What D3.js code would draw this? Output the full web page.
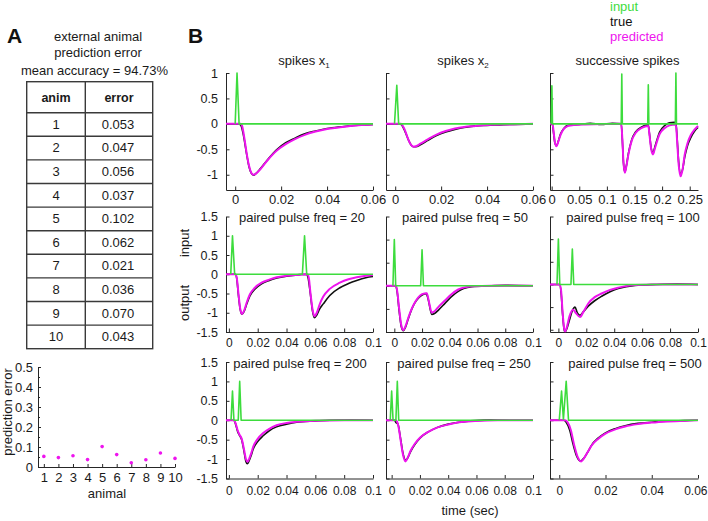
<!DOCTYPE html>
<html>
<head>
<meta charset="utf-8">
<script src="https://cdn.jsdelivr.net/npm/d3@7"></script>
<style>
  body { margin: 0; background: #fff; }
  svg { display: block; font-family: "Liberation Sans", Arial, sans-serif; }
  .axis path, .axis line { stroke: #262626; stroke-width: 1; }
  .axis text { fill: #1a1a1a; }
</style>
</head>
<body>
<svg id="fig" width="708" height="521"></svg>
<script>
// ---- panel A data ----
const animals = [1, 2, 3, 4, 5, 6, 7, 8, 9, 10];
const errors = [0.053, 0.047, 0.056, 0.037, 0.102, 0.062, 0.021, 0.036, 0.070, 0.043];
const errorTicks = [0, 0.1, 0.2, 0.3, 0.4, 0.5];
const errorMinor = [0.05, 0.15, 0.25, 0.35, 0.45];

// ---- panel B tick labels ----
const yTicksTop = [-1, -0.5, 0, 0.5, 1];
const yTicksLow = [-1.5, -1, -0.5, 0, 0.5, 1, 1.5];
const xTicks06 = [0, 0.02, 0.04, 0.06];
const xTicks10 = [0, 0.02, 0.04, 0.06, 0.08, 0.1];
const xTicksSucc = [0, 0.05, 0.1, 0.15, 0.2, 0.25];

// ---- traces [time (s), value] ----
const x1In = [[0, 0], [0.0008, 1], [0.0017, 0], [0.06, 0]];
const x1True = [[-0.004, 0], [0.0015, 0], [0.0025, -0.03], [0.0035, -0.2], [0.005, -0.6], [0.006, -0.84], [0.007, -0.97], [0.008, -1.01], [0.009, -0.98], [0.011, -0.88], [0.014, -0.71], [0.018, -0.51], [0.022, -0.37], [0.026, -0.28], [0.03, -0.2], [0.035, -0.14], [0.04, -0.09], [0.045, -0.06], [0.05, -0.04], [0.055, -0.02], [0.06, -0.01]];
const x1Pred = [[-0.004, 0], [0.0025, 0], [0.003, -0.04], [0.004, -0.28], [0.005, -0.58], [0.006, -0.82], [0.007, -0.96], [0.008, -1.0], [0.009, -0.98], [0.011, -0.89], [0.014, -0.72], [0.018, -0.53], [0.022, -0.4], [0.026, -0.3], [0.03, -0.22], [0.035, -0.15], [0.04, -0.1], [0.045, -0.07], [0.05, -0.04], [0.055, -0.02], [0.06, -0.01]];

const x2In = [[-0.0003, 0], [0.0007, 0.76], [0.0015, 0], [0.06, 0]];
const x2True = [[-0.004, 0], [0.002, 0], [0.003, -0.03], [0.004, -0.12], [0.005, -0.23], [0.006, -0.34], [0.007, -0.42], [0.008, -0.45], [0.009, -0.45], [0.011, -0.41], [0.014, -0.33], [0.018, -0.23], [0.022, -0.16], [0.026, -0.11], [0.03, -0.07], [0.035, -0.04], [0.04, -0.03], [0.05, -0.01], [0.06, 0]];
const x2Pred = [[-0.004, 0], [0.0025, 0], [0.003, -0.02], [0.004, -0.1], [0.005, -0.22], [0.006, -0.34], [0.007, -0.42], [0.008, -0.45], [0.009, -0.44], [0.011, -0.39], [0.014, -0.31], [0.018, -0.21], [0.022, -0.14], [0.026, -0.09], [0.03, -0.06], [0.035, -0.04], [0.04, -0.02], [0.05, -0.01], [0.06, 0]];

const succIn = [[-0.001, 0], [0.0004, 0.75], [0.0015, 0], [0.126, 0], [0.127, 0.98], [0.128, 0], [0.174, 0], [0.175, 0.77], [0.176, 0], [0.224, 0], [0.225, 1.0], [0.226, 0], [0.265, 0]];
const succTrue = [[-0.003, 0], [0.001, 0], [0.0035, -0.18], [0.006, -0.38], [0.0088, -0.43], [0.012, -0.34], [0.016, -0.2], [0.022, -0.09], [0.03, -0.03], [0.05, -0.01], [0.07, 0.01], [0.09, -0.01], [0.11, 0.01], [0.126, 0], [0.128, -0.32], [0.13, -0.76], [0.1325, -0.95], [0.135, -0.84], [0.139, -0.58], [0.145, -0.31], [0.152, -0.16], [0.163, -0.06], [0.175, -0.02], [0.177, -0.18], [0.18, -0.46], [0.1835, -0.57], [0.187, -0.45], [0.1955, -0.16], [0.205, -0.03], [0.213, 0.02], [0.222, 0.03], [0.225, 0.02], [0.227, -0.25], [0.23, -0.75], [0.2335, -0.98], [0.237, -0.9], [0.241, -0.65], [0.246, -0.43], [0.252, -0.27], [0.259, -0.14], [0.265, -0.07]];
const succPred = [[-0.003, 0], [0.0015, 0], [0.004, -0.2], [0.0065, -0.4], [0.009, -0.44], [0.012, -0.35], [0.016, -0.22], [0.022, -0.1], [0.03, -0.04], [0.04, -0.02], [0.06, -0.01], [0.126, 0], [0.128, -0.3], [0.13, -0.75], [0.1325, -0.96], [0.135, -0.85], [0.139, -0.6], [0.145, -0.33], [0.152, -0.18], [0.163, -0.08], [0.175, -0.04], [0.177, -0.2], [0.18, -0.48], [0.1835, -0.6], [0.187, -0.48], [0.1955, -0.2], [0.205, -0.08], [0.2135, -0.03], [0.225, -0.01], [0.227, -0.3], [0.23, -0.8], [0.2335, -1.03], [0.237, -0.9], [0.241, -0.6], [0.246, -0.38], [0.252, -0.22], [0.259, -0.11], [0.265, -0.04]];

const pp20In = [[0.0013, 0], [0.0025, 1.0], [0.004, 0], [0.051, 0], [0.0525, 1.0], [0.054, 0], [0.1, 0]];
const pp20True = [[-0.002, 0], [0.0045, 0], [0.0055, -0.12], [0.0065, -0.5], [0.0078, -0.9], [0.009, -1.04], [0.0105, -0.97], [0.0125, -0.76], [0.0146, -0.56], [0.018, -0.39], [0.0227, -0.25], [0.028, -0.16], [0.0332, -0.1], [0.04, -0.05], [0.0493, -0.01], [0.054, 0], [0.055, -0.1], [0.0565, -0.5], [0.058, -0.95], [0.0593, -1.13], [0.061, -1.06], [0.063, -0.9], [0.0655, -0.77], [0.07, -0.55], [0.077, -0.35], [0.083, -0.24], [0.0887, -0.16], [0.095, -0.09], [0.1, -0.06]];
const pp20Pred = [[-0.002, 0], [0.0045, 0], [0.0055, -0.1], [0.0065, -0.45], [0.0078, -0.88], [0.009, -1.03], [0.0105, -0.95], [0.0125, -0.72], [0.0146, -0.52], [0.018, -0.35], [0.0227, -0.22], [0.028, -0.14], [0.0332, -0.08], [0.04, -0.04], [0.0493, -0.01], [0.0545, 0], [0.0555, -0.1], [0.0565, -0.45], [0.058, -0.9], [0.0593, -1.09], [0.061, -1.0], [0.063, -0.78], [0.0655, -0.58], [0.07, -0.38], [0.077, -0.22], [0.083, -0.13], [0.0887, -0.08], [0.095, -0.04], [0.1, -0.02]];

const pp50In = [[-0.001, 0], [0, 1.0], [0.001, 0], [0.019, 0], [0.02, 0.78], [0.021, 0], [0.1, 0]];
const pp50True = [[-0.006, 0], [0.001, 0], [0.002, -0.12], [0.0035, -0.55], [0.005, -0.88], [0.0065, -0.97], [0.008, -0.9], [0.01, -0.72], [0.0125, -0.51], [0.0148, -0.37], [0.0173, -0.27], [0.02, -0.2], [0.023, -0.17], [0.0245, -0.3], [0.027, -0.62], [0.029, -0.6], [0.032, -0.52], [0.0365, -0.38], [0.041, -0.24], [0.0461, -0.12], [0.05, -0.06], [0.0558, -0.02], [0.07, 0], [0.08, 0.01], [0.1, 0]];
const pp50Pred = [[-0.006, 0], [0.0012, 0], [0.002, -0.1], [0.0035, -0.5], [0.005, -0.85], [0.0065, -0.96], [0.008, -0.88], [0.01, -0.7], [0.0125, -0.5], [0.0148, -0.36], [0.0173, -0.25], [0.02, -0.18], [0.0234, -0.16], [0.025, -0.35], [0.027, -0.58], [0.029, -0.55], [0.032, -0.45], [0.0365, -0.32], [0.041, -0.19], [0.0461, -0.08], [0.05, -0.04], [0.0558, -0.01], [0.07, 0], [0.1, 0]];

const pp100In = [[-0.001, 0], [0, 1.0], [0.001, 0], [0.009, 0], [0.01, 0.78], [0.011, 0], [0.1, 0]];
const pp100True = [[-0.006, 0], [0.0008, 0], [0.002, -0.2], [0.003, -0.65], [0.004, -0.97], [0.0048, -1.05], [0.006, -0.98], [0.008, -0.78], [0.01, -0.58], [0.0119, -0.5], [0.0135, -0.62], [0.0155, -0.68], [0.018, -0.6], [0.0214, -0.48], [0.026, -0.36], [0.031, -0.26], [0.037, -0.16], [0.0429, -0.09], [0.0549, -0.02], [0.07, 0], [0.085, 0.01], [0.1, 0]];
const pp100Pred = [[-0.006, 0], [0.001, 0], [0.002, -0.15], [0.003, -0.6], [0.004, -0.95], [0.0048, -1.04], [0.006, -0.95], [0.008, -0.7], [0.0105, -0.56], [0.0125, -0.63], [0.0155, -0.72], [0.018, -0.6], [0.0214, -0.42], [0.026, -0.28], [0.031, -0.2], [0.037, -0.12], [0.0429, -0.07], [0.0549, -0.01], [0.07, 0], [0.1, 0]];

const pp200In = [[0.0015, 0], [0.0025, 0.75], [0.0035, 0], [0.0065, 0], [0.0075, 1.0], [0.0085, 0], [0.1, 0]];
const pp200True = [[-0.002, 0], [0.0035, 0], [0.0045, -0.08], [0.006, -0.28], [0.0072, -0.38], [0.0089, -0.5], [0.0105, -0.8], [0.0118, -1.06], [0.0128, -1.12], [0.014, -1.05], [0.0155, -0.9], [0.0169, -0.74], [0.02, -0.55], [0.0238, -0.4], [0.028, -0.27], [0.0331, -0.17], [0.04, -0.1], [0.047, -0.05], [0.06, -0.02], [0.07, 0], [0.085, 0.01], [0.1, 0]];
const pp200Pred = [[-0.002, 0], [0.0035, 0], [0.0045, -0.06], [0.006, -0.25], [0.0072, -0.36], [0.0089, -0.48], [0.0105, -0.75], [0.0118, -1.0], [0.0128, -1.07], [0.014, -1.0], [0.0155, -0.85], [0.0169, -0.68], [0.02, -0.48], [0.0238, -0.33], [0.028, -0.22], [0.0331, -0.13], [0.04, -0.07], [0.047, -0.04], [0.06, -0.01], [0.08, 0], [0.1, 0]];

const pp250In = [[-0.001, 0], [0, 0.75], [0.001, 0], [0.003, 0], [0.004, 1.0], [0.005, 0], [0.1, 0]];
const pp250True = [[-0.004, 0], [0.002, 0], [0.003, -0.06], [0.0045, -0.1], [0.006, -0.4], [0.008, -0.85], [0.0099, -1.03], [0.0115, -0.96], [0.0135, -0.8], [0.0165, -0.62], [0.02, -0.46], [0.0259, -0.3], [0.032, -0.19], [0.0401, -0.1], [0.048, -0.05], [0.059, -0.01], [0.07, 0.01], [0.085, 0], [0.1, 0]];
const pp250Pred = [[-0.004, 0], [0.003, 0], [0.004, -0.05], [0.005, -0.2], [0.0065, -0.55], [0.008, -0.88], [0.0099, -1.06], [0.0115, -0.95], [0.0135, -0.78], [0.0165, -0.6], [0.02, -0.45], [0.0259, -0.3], [0.032, -0.19], [0.0401, -0.11], [0.048, -0.05], [0.059, -0.02], [0.075, 0], [0.1, 0]];

const pp500In = [[0, 0], [0.001, 0.75], [0.0018, 0.02], [0.003, 1.0], [0.004, 0], [0.06, 0]];
const pp500True = [[-0.004, 0], [0.002, 0], [0.003, -0.05], [0.0045, -0.25], [0.006, -0.62], [0.0075, -0.92], [0.0092, -1.05], [0.011, -0.95], [0.0125, -0.8], [0.014, -0.64], [0.0168, -0.46], [0.0198, -0.33], [0.0245, -0.21], [0.0285, -0.14], [0.034, -0.08], [0.04, -0.05], [0.047, -0.02], [0.0544, -0.01], [0.06, 0]];
const pp500Pred = [[-0.004, 0], [0.0025, 0], [0.0035, -0.04], [0.005, -0.25], [0.0065, -0.65], [0.008, -0.95], [0.0094, -1.06], [0.011, -0.95], [0.0125, -0.8], [0.014, -0.65], [0.0168, -0.48], [0.0198, -0.35], [0.0245, -0.23], [0.0285, -0.16], [0.034, -0.1], [0.04, -0.06], [0.047, -0.03], [0.0544, -0.01], [0.06, 0]];

const COLORS = { input: '#3ddc3d', true: '#111111', pred: '#ee14ee', axis: '#262626', text: '#1a1a1a' };

const svg = d3.select('#fig');
const fmt = d => String(Math.round(d * 1000) / 1000);

// ---------------- Panel A ----------------
svg.append('text').attr('x', 7).attr('y', 43)
    .attr('font-size', 21).attr('font-weight', 'bold').attr('fill', '#111').text('A');

const headA = ['external animal', 'prediction error', 'mean accuracy = 94.73%'];
[41, 57, 75].forEach((yy, i) => {
    svg.append('text').attr('x', i === 2 ? 94.5 : 98).attr('y', yy)
        .attr('text-anchor', 'middle').attr('font-size', 13).attr('fill', COLORS.text)
        .text(headA[i]);
});

// table
const tbl = { left: 26.7, mid: 85.3, right: 152.7, top: 81.7, head: 31, row: 23.6 };
const tblG = svg.append('g');
const tblBottom = tbl.top + tbl.head + tbl.row * animals.length;
tblG.append('rect').attr('x', tbl.left).attr('y', tbl.top)
    .attr('width', tbl.right - tbl.left).attr('height', tblBottom - tbl.top)
    .attr('fill', 'none').attr('stroke', '#3a3a3a').attr('stroke-width', 1.4);
tblG.append('line').attr('x1', tbl.mid).attr('x2', tbl.mid).attr('y1', tbl.top).attr('y2', tblBottom)
    .attr('stroke', '#3a3a3a').attr('stroke-width', 1.4);
animals.forEach((a, i) => {
    const yy = tbl.top + tbl.head + tbl.row * i;
    tblG.append('line').attr('x1', tbl.left).attr('x2', tbl.right).attr('y1', yy).attr('y2', yy)
        .attr('stroke', '#3a3a3a').attr('stroke-width', 1.4);
    const cy = yy + tbl.row / 2 + 4.3;
    tblG.append('text').attr('x', (tbl.left + tbl.mid) / 2).attr('y', cy)
        .attr('text-anchor', 'middle').attr('font-size', 13).attr('fill', COLORS.text).text(a);
    tblG.append('text').attr('x', (tbl.mid + tbl.right) / 2 - 1).attr('y', cy)
        .attr('text-anchor', 'middle').attr('font-size', 13).attr('fill', COLORS.text)
        .text(errors[i].toFixed(3));
});
tblG.append('text').attr('x', (tbl.left + tbl.mid) / 2).attr('y', tbl.top + 20.5)
    .attr('text-anchor', 'middle').attr('font-size', 12.5).attr('font-weight', 'bold').attr('fill', COLORS.text).text('anim');
tblG.append('text').attr('x', (tbl.mid + tbl.right) / 2).attr('y', tbl.top + 20.5)
    .attr('text-anchor', 'middle').attr('font-size', 12.5).attr('font-weight', 'bold').attr('fill', COLORS.text).text('error');

// scatter of errors
const xA = d3.scaleLinear().domain([0.6, 10]).range([38, 175]);
const yA = d3.scaleLinear().domain([0, 0.5]).range([467, 367]);

const axA = svg.append('g').attr('class', 'axis').attr('transform', 'translate(0,467)')
    .call(d3.axisBottom(xA).tickValues(animals).tickSizeInner(-3).tickSizeOuter(0).tickPadding(6).tickFormat(fmt));
const ayA = svg.append('g').attr('class', 'axis').attr('transform', 'translate(38,0)')
    .call(d3.axisLeft(yA).tickValues(errorTicks).tickSizeInner(-3).tickSizeOuter(0).tickPadding(5).tickFormat(fmt));
[axA, ayA].forEach(a => a.attr('font-family', null).selectAll('text').attr('font-size', 13));
svg.append('g').attr('class', 'axis').attr('transform', 'translate(38,0)')
    .call(d3.axisLeft(yA).tickValues(errorMinor).tickSizeInner(-2).tickSizeOuter(0).tickFormat(''))
    .select('.domain').remove();

svg.append('g').selectAll('circle').data(animals).join('circle')
    .attr('cx', d => xA(d)).attr('cy', (d, i) => yA(errors[i]))
    .attr('r', 1.8).attr('fill', COLORS.pred);

svg.append('text').attr('x', 107).attr('y', 498).attr('text-anchor', 'middle')
    .attr('font-size', 13).attr('fill', COLORS.text).text('animal');
svg.append('text').attr('transform', 'translate(12,412) rotate(-90)').attr('text-anchor', 'middle')
    .attr('font-size', 13).attr('fill', COLORS.text).text('prediction error');

// ---------------- Panel B ----------------
svg.append('text').attr('x', 188).attr('y', 43)
    .attr('font-size', 21).attr('font-weight', 'bold').attr('fill', '#111').text('B');

// legend
const legend = [['input', COLORS.input], ['true', COLORS.true], ['predicted', COLORS.pred]];
legend.forEach(([lab, col], i) => {
    svg.append('text').attr('x', 610).attr('y', 11 + i * 15)
        .attr('font-size', 13).attr('fill', col).text(lab);
});

const cols = [[226, 373], [386, 533], [550, 698]];
const rows = [
    { top: 73, bottom: 190, titleY: 65, pad: 5, fs: 13 },
    { top: 216.5, bottom: 332, titleY: 221.5, pad: 6, fs: 12 },
    { top: 362, bottom: 478.5, titleY: 368, pad: 8, fs: 12 }
];

const panels = [
    { row: 0, col: 0, title: 'spikes x', sub: '1', tx: 304, xd: [-0.004, 0.06], yd: [-1.3, 1], xt: xTicks06, yt: yTicksTop, inp: x1In, tru: x1True, pred: x1Pred },
    { row: 0, col: 1, title: 'spikes x', sub: '2', tx: 463, xd: [-0.004, 0.06], yd: [-1.3, 1], xt: xTicks06, yt: yTicksTop, inp: x2In, tru: x2True, pred: x2Pred },
    { row: 0, col: 2, title: 'successive spikes', tx: 627.5, xd: [-0.003, 0.265], yd: [-1.3, 1], xt: xTicksSucc, yt: yTicksTop, inp: succIn, tru: succTrue, pred: succPred },
    { row: 1, col: 0, title: 'paired pulse freq = 20', tx: 302, xd: [-0.002, 0.1], yd: [-1.5, 1.5], xt: xTicks10, yt: yTicksLow, inp: pp20In, tru: pp20True, pred: pp20Pred },
    { row: 1, col: 1, title: 'paired pulse freq = 50', tx: 465, xd: [-0.006, 0.1], yd: [-1, 1.5], xt: xTicks10, yt: yTicksLow, inp: pp50In, tru: pp50True, pred: pp50Pred },
    { row: 1, col: 2, title: 'paired pulse freq = 100', tx: 633, xd: [-0.006, 0.1], yd: [-1.05, 1.5], xt: xTicks10, yt: yTicksLow, inp: pp100In, tru: pp100True, pred: pp100Pred },
    { row: 2, col: 0, title: 'paired pulse freq = 200', tx: 300, xd: [-0.002, 0.1], yd: [-1.5, 1.5], xt: xTicks10, yt: yTicksLow, inp: pp200In, tru: pp200True, pred: pp200Pred },
    { row: 2, col: 1, title: 'paired pulse freq = 250', tx: 464, xd: [-0.004, 0.1], yd: [-1.5, 1.5], xt: xTicks10, yt: yTicksLow, inp: pp250In, tru: pp250True, pred: pp250Pred },
    { row: 2, col: 2, title: 'paired pulse freq = 500', tx: 635, xd: [-0.004, 0.06], yd: [-1.5, 1.5], xt: xTicks06, yt: yTicksLow, inp: pp500In, tru: pp500True, pred: pp500Pred }
];

panels.forEach(p => {
    const r = rows[p.row];
    const x = d3.scaleLinear().domain(p.xd).range(cols[p.col]);
    const y = d3.scaleLinear().domain(p.yd).range([r.bottom, r.top]);
    const yTicks = p.yt.filter(v => v >= p.yd[0] - 1e-9 && v <= p.yd[1] + 1e-9);

    const g = svg.append('g');

    const ax = g.append('g').attr('class', 'axis').attr('transform', `translate(0,${r.bottom})`)
        .call(d3.axisBottom(x).tickValues(p.xt).tickSizeInner(-3.5).tickSizeOuter(0).tickPadding(r.pad).tickFormat(fmt));
    const ay = g.append('g').attr('class', 'axis').attr('transform', `translate(${cols[p.col][0]},0)`)
        .call(d3.axisLeft(y).tickValues(yTicks).tickSizeInner(-3.5).tickSizeOuter(0).tickPadding(8)
            .tickFormat(p.col === 0 ? fmt : ''));
    ax.attr('font-family', null).selectAll('text').attr('font-size', r.fs);
    ay.attr('font-family', null).selectAll('text').attr('font-size', 12.5);

    // keep the last label inside the page at the right edge
    if (p.col === 2) {
        const labs = ax.selectAll('.tick text').nodes();
        const last = d3.select(labs[labs.length - 1]);
        const w = last.node().getComputedTextLength();
        const right = x(p.xt[p.xt.length - 1]) + w / 2;
        if (right > 707) last.attr('dx', 707 - right);
    }

    const smooth = d3.line().x(d => x(d[0])).y(d => y(d[1])).curve(d3.curveMonotoneX);
    const sharp = d3.line().x(d => x(d[0])).y(d => y(d[1]));

    g.append('path').datum(p.tru).attr('d', smooth)
        .attr('fill', 'none').attr('stroke', COLORS.true).attr('stroke-width', 1.6);
    g.append('path').datum(p.pred).attr('d', smooth)
        .attr('fill', 'none').attr('stroke', COLORS.pred).attr('stroke-width', 2);
    g.append('path').datum(p.inp).attr('d', sharp)
        .attr('fill', 'none').attr('stroke', COLORS.input).attr('stroke-width', 1.6)
        .attr('stroke-linejoin', 'round');

    const t = g.append('text').attr('x', p.tx).attr('y', r.titleY).attr('text-anchor', 'middle')
        .attr('font-size', 13).attr('fill', COLORS.text).text(p.title);
    if (p.sub) {
        t.append('tspan').attr('font-size', 8).attr('dy', 3).text(p.sub);
    }
});

svg.append('text').attr('transform', 'translate(188.5,243) rotate(-90)').attr('text-anchor', 'middle')
    .attr('font-size', 13).attr('fill', COLORS.text).text('input');
svg.append('text').attr('transform', 'translate(188.5,303) rotate(-90)').attr('text-anchor', 'middle')
    .attr('font-size', 13).attr('fill', COLORS.text).text('output');
svg.append('text').attr('x', 470).attr('y', 515).attr('text-anchor', 'middle')
    .attr('font-size', 13).attr('fill', COLORS.text).text('time (sec)');
</script>
</body>
</html>
